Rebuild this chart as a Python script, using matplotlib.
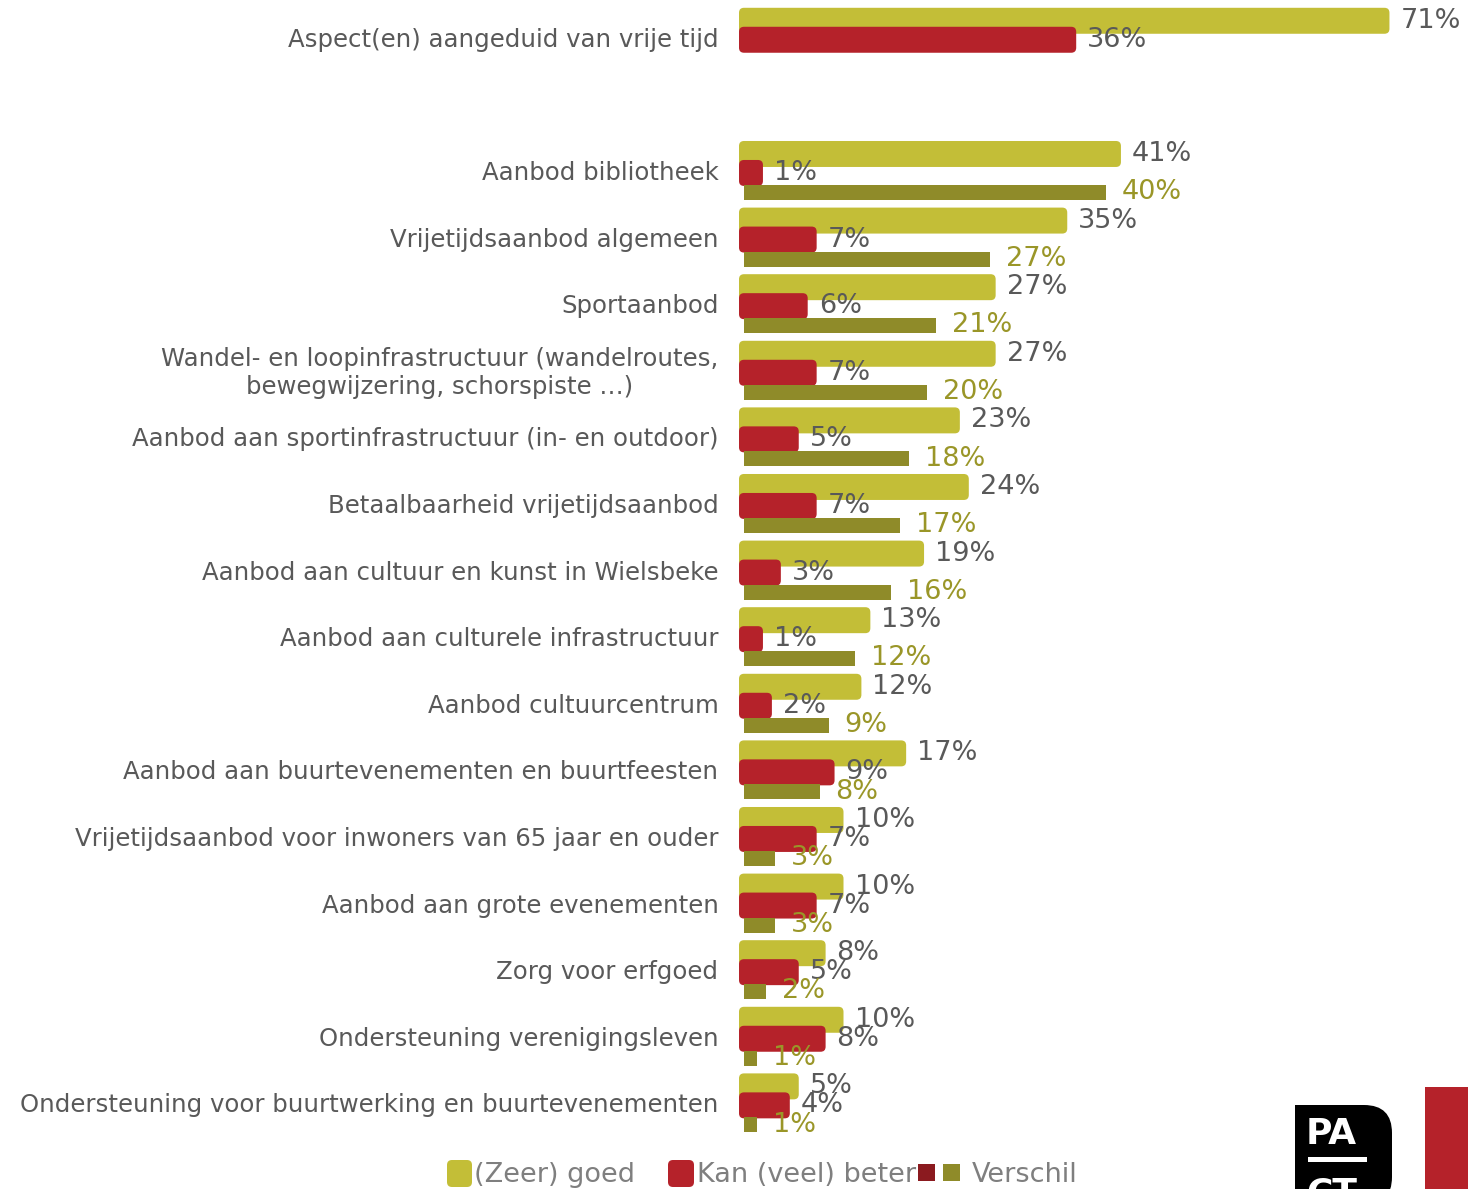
import matplotlib
matplotlib.use("Agg")
import matplotlib.pyplot as plt
from matplotlib.patches import FancyBboxPatch, Rectangle

# data
top_label = "Aspect(en) aangeduid van vrije tijd"
top_goed = 71
top_beter = 36

categories = [
    "Aanbod bibliotheek",
    "Vrijetijdsaanbod algemeen",
    "Sportaanbod",
    "Wandel- en loopinfrastructuur (wandelroutes,\nbewegwijzering, schorspiste \u2026)",
    "Aanbod aan sportinfrastructuur (in- en outdoor)",
    "Betaalbaarheid vrijetijdsaanbod",
    "Aanbod aan cultuur en kunst in Wielsbeke",
    "Aanbod aan culturele infrastructuur",
    "Aanbod cultuurcentrum",
    "Aanbod aan buurtevenementen en buurtfeesten",
    "Vrijetijdsaanbod voor inwoners van 65 jaar en ouder",
    "Aanbod aan grote evenementen",
    "Zorg voor erfgoed",
    "Ondersteuning verenigingsleven",
    "Ondersteuning voor buurtwerking en buurtevenementen",
]
goed = [41, 35, 27, 27, 23, 24, 19, 13, 12, 17, 10, 10, 8, 10, 5]
beter = [1, 7, 6, 7, 5, 7, 3, 1, 2, 9, 7, 7, 5, 8, 4]
verschil = [40, 27, 21, 20, 18, 17, 16, 12, 9, 8, 3, 3, 2, 1, 1]

YELLOW = "#C3BE37"
RED = "#B5222A"
OLIVE = "#8F8B29"
DARKRED = "#8B1A1F"
GREY = "#595959"
OLIVE_TXT = "#9A9628"

px_x = 8.95   # pixels per percent
px_y = 66.6   # pixels per row
cap = 15 / px_x       # extra length of the rounded bars
ocap = 4 / px_x       # extra length of the difference bars
oleft = 5 / px_x

fig = plt.figure(figsize=(14.68, 11.89), dpi=100)
ax = fig.add_axes([739 / 1468, 0, 1 - 739 / 1468, 1])
ax.set_xlim(0, 729 / px_x)
ax.set_ylim(-2.117 + 1189 / px_y, -2.117)
ax.axis("off")

r = 5 / px_x
asp = (5 / px_y) / r


def rbar(y0, v, h, color):
    p = FancyBboxPatch((0, y0), v + cap, h, boxstyle=f"round,pad=0,rounding_size={r}",
                       mutation_aspect=asp, facecolor=color, edgecolor="none")
    ax.add_patch(p)


lab_kw = dict(ha="right", va="center", color=GREY, fontsize=17.6,
              family="DejaVu Sans")
num_kw = dict(ha="left", va="center", fontsize=19.5, family="DejaVu Sans")
dx = cap + 11 / px_x
odx = oleft + ocap + 16 / px_x

# top row
rbar(-2, top_goed, 0.39, YELLOW)
rbar(-2 + 0.285, top_beter, 0.39, RED)
ax.text(top_goed + dx, -2 + 0.195, f"{top_goed}%", color=GREY, **num_kw)
ax.text(top_beter + dx, -2 + 0.48, f"{top_beter}%", color=GREY, **num_kw)
ax.text(-2.3, -2 + 0.48, top_label, **lab_kw)

for i, cat in enumerate(categories):
    rbar(i, goed[i], 0.39, YELLOW)
    rbar(i + 0.285, beter[i], 0.39, RED)
    ax.barh(i + 0.66, verschil[i] + ocap, left=oleft, height=0.225, align="edge",
            color=OLIVE)
    ax.text(goed[i] + dx, i + 0.195, f"{goed[i]}%", color=GREY, **num_kw)
    ax.text(beter[i] + dx, i + 0.48, f"{beter[i]}%", color=GREY, **num_kw)
    ax.text(verschil[i] + odx, i + 0.77, f"{verschil[i]}%",
            color=OLIVE_TXT, **num_kw)
    ax.text(-2.3, i + 0.48, cat, multialignment="center", **lab_kw)

# overlay in pixel coordinates for legend and logo
ov = fig.add_axes([0, 0, 1, 1])
ov.set_xlim(0, 1468)
ov.set_ylim(1189, 0)
ov.axis("off")

leg_kw = dict(ha="left", va="center", color="#7F7F7F", fontsize=19.5,
              family="DejaVu Sans")
ov.add_patch(FancyBboxPatch((447, 1160), 25, 27, boxstyle="round,pad=0,rounding_size=5",
                            facecolor=YELLOW, edgecolor="none"))
ov.text(474, 1175, "(Zeer) goed", **leg_kw)
ov.add_patch(FancyBboxPatch((668, 1160), 26, 27, boxstyle="round,pad=0,rounding_size=5",
                            facecolor=RED, edgecolor="none"))
ov.text(697, 1175, "Kan (veel) beter", **leg_kw)
ov.add_patch(Rectangle((918, 1164), 17, 17, facecolor=DARKRED, edgecolor="none"))
ov.add_patch(Rectangle((943, 1164), 17, 17, facecolor=OLIVE, edgecolor="none"))
ov.text(972, 1175, "Verschil", **leg_kw)

# logo
ov.add_patch(FancyBboxPatch((1295, 1105), 97, 100, boxstyle="round,pad=0,rounding_size=28",
                            facecolor="black", edgecolor="none"))
ov.add_patch(Rectangle((1295, 1105), 40, 100, facecolor="black", edgecolor="none"))
ov.text(1306, 1134, "PA", color="white", fontsize=26, fontweight="bold",
        ha="left", va="center", family="DejaVu Sans")
ov.add_patch(Rectangle((1308, 1157), 59, 5, facecolor="white", edgecolor="none"))
ov.text(1306, 1193, "CT", color="white", fontsize=26, fontweight="bold",
        ha="left", va="center", family="DejaVu Sans")
ov.add_patch(Rectangle((1425, 1087), 43, 110, facecolor=RED, edgecolor="none"))

fig.savefig("out.png", dpi=100)
